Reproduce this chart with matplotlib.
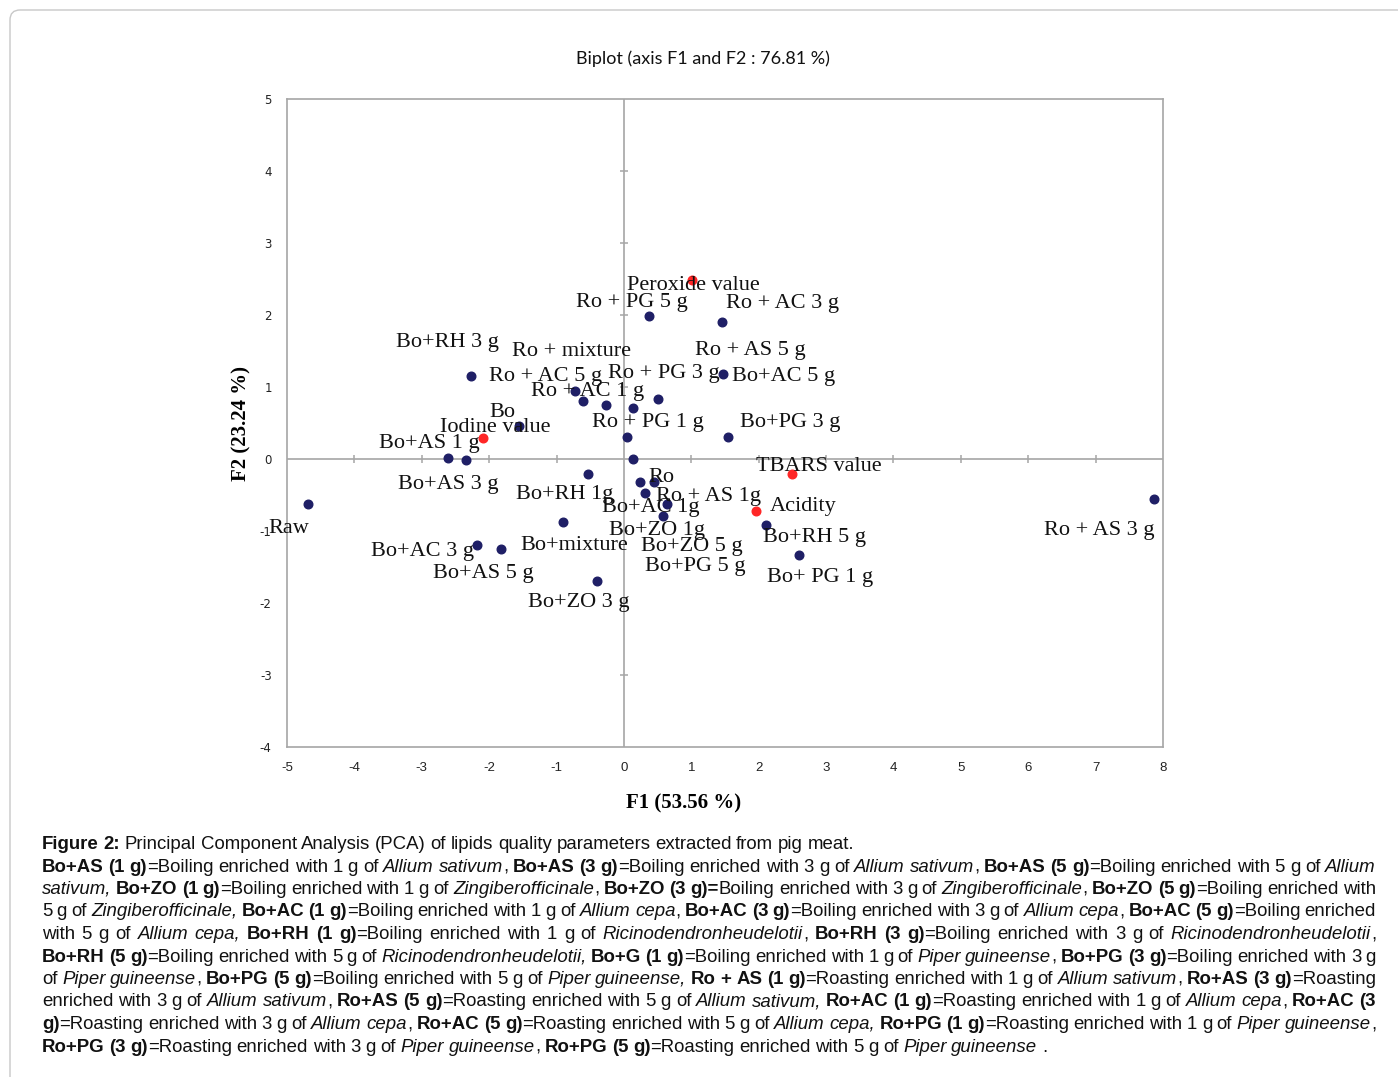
import re
import matplotlib
matplotlib.use("Agg")
import matplotlib.pyplot as plt
from matplotlib import font_manager
from matplotlib.patches import FancyBboxPatch
from matplotlib.transforms import IdentityTransform

W, H = 1398, 1077
plt.rcParams["axes.unicode_minus"] = False

# observations (F1, F2)
obs_f1 = [-4.69, -2.27, 1.47, 0.37, 1.45, -0.72, -0.61, -0.26, 0.14, 0.51,
          -1.55, 0.04, 1.55, -2.61, -2.34, 0.14, -0.54, 0.24, 0.44, 0.31,
          0.64, -0.90, 0.585, 2.11, -2.18, -1.82, 2.60, -0.40, 7.87]
obs_f2 = [-0.62, 1.15, 1.18, 1.98, 1.90, 0.95, 0.80, 0.75, 0.71, 0.83,
          0.46, 0.30, 0.31, 0.01, -0.01, -0.005, -0.21, -0.32, -0.32, -0.47,
          -0.625, -0.88, -0.79, -0.92, -1.19, -1.25, -1.33, -1.69, -0.55]

# variables (F1, F2)
var_f1 = [1.01, -2.09, 2.50, 1.96]
var_f2 = [2.48, 0.29, -0.21, -0.72]

# point labels and where they sit (left edge, vertical centre)
labels = ["Peroxide value", "Ro + PG 5 g", "Ro + AC 3 g", "Bo+RH 3 g", "Ro + mixture",
          "Ro + AS 5 g", "Ro + AC 5 g", "Ro + PG 3 g", "Bo+AC 5 g", "Ro + AC 1 g",
          "Bo", "Iodine value", "Ro + PG 1 g", "Bo+PG 3 g", "Bo+AS 1 g",
          "TBARS value", "Bo+AS 3 g", "Ro", "Bo+RH 1g", "Ro + AS 1g",
          "Bo+AC 1g", "Acidity", "Raw", "Bo+ZO 1g", "Ro + AS 3 g",
          "Bo+RH 5 g", "Bo+mixture", "Bo+ZO 5 g", "Bo+AC 3 g", "Bo+PG 5 g",
          "Bo+AS 5 g", "Bo+ PG 1 g", "Bo+ZO 3 g"]
label_x = [0.045, -0.71, 1.51, -3.38, -1.66, 1.05, -2.00, -0.24, 1.60, -1.38,
           -2.00, -2.73, -0.47, 1.72, -3.64, 1.96, -3.35, 0.36, -1.60, 0.47,
           -0.33, 2.17, -5.27, -0.22, 6.23, 2.06, -1.54, 0.25, -3.75, 0.31,
           -2.83, 2.12, -1.42]
label_y = [2.41, 2.18, 2.16, 1.62, 1.50, 1.50, 1.15, 1.19, 1.14, 0.94,
           0.64, 0.44, 0.50, 0.50, 0.21, -0.11, -0.35, -0.25, -0.50, -0.52,
           -0.68, -0.655, -0.96, -1.00, -1.00, -1.09, -1.20, -1.22, -1.29, -1.49,
           -1.59, -1.65, -2.00]

caption = [
    "**Figure 2:** Principal Component Analysis (PCA) of lipids quality parameters extracted from pig meat.",
    "**Bo+AS (1 g)**=Boiling enriched with 1 g of *Allium sativum*, **Bo+AS (3 g)**=Boiling enriched with 3 g of *Allium sativum*, **Bo+AS (5 g)**=Boiling enriched with 5 g of *Allium*",
    "*sativum,* **Bo+ZO (1 g)**=Boiling enriched with 1 g of *Zingiberofficinale*, **Bo+ZO (3 g)=**Boiling enriched with 3 g of *Zingiberofficinale*, **Bo+ZO (5 g)**=Boiling enriched with",
    "5 g of *Zingiberofficinale,* **Bo+AC (1 g)**=Boiling enriched with 1 g of *Allium cepa*, **Bo+AC (3 g)**=Boiling enriched with 3 g of *Allium cepa*, **Bo+AC (5 g)**=Boiling enriched",
    "with 5 g of *Allium cepa,* **Bo+RH (1 g)**=Boiling enriched with 1 g of *Ricinodendronheudelotii*, **Bo+RH (3 g)**=Boiling enriched with 3 g of *Ricinodendronheudelotii*,",
    "**Bo+RH (5 g)**=Boiling enriched with 5 g of *Ricinodendronheudelotii,* **Bo+G (1 g)**=Boiling enriched with 1 g of *Piper guineense*, **Bo+PG (3 g)**=Boiling enriched with 3 g",
    "of *Piper guineense*, **Bo+PG (5 g)**=Boiling enriched with 5 g of *Piper guineense,* **Ro + AS (1 g)**=Roasting enriched with 1 g of *Allium sativum*, **Ro+AS (3 g)**=Roasting",
    "enriched with 3 g of *Allium sativum*, **Ro+AS (5 g)**=Roasting enriched with 5 g of *Allium sativum,* **Ro+AC (1 g)**=Roasting enriched with 1 g of *Allium cepa*, **Ro+AC (3**",
    "**g)**=Roasting enriched with 3 g of *Allium cepa*, **Ro+AC (5 g)**=Roasting enriched with 5 g of *Allium cepa,* **Ro+PG (1 g)**=Roasting enriched with 1 g of *Piper guineense*,",
    "**Ro+PG (3 g)**=Roasting enriched with 3 g of *Piper guineense*, **Ro+PG (5 g)**=Roasting enriched with 5 g of *Piper guineense* .",
]
justified = [False, True, True, True, True, True, True, True, True, False]

grey = "#a6a6a6"
navy = "#1f1f66"
red = "#ff2626"
serif = ["Liberation Serif", "DejaVu Serif"]

try:
    font_manager.findfont("Liberation Sans Narrow", fallback_to_default=False)
    narrow = "Liberation Sans Narrow"
except ValueError:
    narrow = None

fig = plt.figure(figsize=(W / 100, H / 100), dpi=100)
fig.add_artist(FancyBboxPatch((10, -20), W + 20, H - 10 + 20,
                              boxstyle="round,pad=0,rounding_size=10",
                              transform=IdentityTransform(),
                              facecolor="none", edgecolor="#c8c8c8", lw=1))

ax = fig.add_axes([287 / W, 1 - 747 / H, 876 / W, 648 / H])
ax.set_xlim(-5, 8)
ax.set_ylim(-4, 5)
for s in ax.spines.values():
    s.set_color(grey)
    s.set_linewidth(1.2)
ax.axhline(0, color=grey, lw=1.2, zorder=1)
ax.axvline(0, color=grey, lw=1.2, zorder=1)
xt = [v for v in range(-4, 8) if v != 0]
yt = [v for v in range(-3, 5) if v != 0]
ax.plot(xt, [0] * len(xt), ls="none", marker="|", ms=6, mew=1.1, color=grey, zorder=1)
ax.plot([0] * len(yt), yt, ls="none", marker="_", ms=6, mew=1.1, color=grey, zorder=1)

ax.set_xticks(range(-5, 9))
ax.set_yticks(range(-4, 6))
ax.tick_params(length=0, colors="#222222")
ax.tick_params(axis="x", pad=11)
ax.tick_params(axis="y", pad=11)
for t in ax.get_xticklabels():
    t.set_fontfamily([narrow or "Liberation Sans", "DejaVu Sans"])
    t.set_fontsize(10 if narrow else 9.5)
for t in ax.get_yticklabels():
    t.set_fontfamily(["DejaVu Sans"])
    t.set_fontsize(8.5)

ax.plot(obs_f1, obs_f2, ls="none", marker="o", ms=6.2, color=navy, zorder=3)
ax.plot(var_f1, var_f2, ls="none", marker="o", ms=6.2, color=red, zorder=3)
for name, lx, ly in zip(labels, label_x, label_y):
    ax.text(lx, ly, name, ha="left", va="center", fontsize=16,
            family=serif, color="#111111", zorder=4, clip_on=False)

fig.text(703 / W, 1 - 59 / H, "Biplot (axis F1 and F2 : 76.81 %)", ha="center",
         va="center", fontsize=13, family=["Lato", "DejaVu Sans"], color="#111111")
fig.text(684 / W, 1 - 803 / H, "F1 (53.56 %)", ha="center", va="center",
         fontsize=15, fontweight="bold", family=serif)
fig.text(241 / W, 1 - 423 / H, "F2 (23.24 %)", ha="center", va="center",
         fontsize=15, fontweight="bold", family=serif, rotation=90)

# caption, word by word so lines can be justified
cap_font = [narrow, "Liberation Sans"] if narrow else ["Liberation Sans", "DejaVu Sans"]
cap_size = 15.5 if narrow else 13.4
renderer = fig.canvas.get_renderer()


def parse(line):
    words, cur = [], []
    for part in re.split(r"(\*\*.+?\*\*|\*.+?\*)", line):
        if not part:
            continue
        if part.startswith("**"):
            style, txt = "b", part[2:-2]
        elif part.startswith("*"):
            style, txt = "i", part[1:-1]
        else:
            style, txt = "r", part
        bits = txt.split(" ")
        for k, b in enumerate(bits):
            if k > 0:
                if cur:
                    words.append(cur)
                cur = []
            if b:
                cur.append((b, style))
    if cur:
        words.append(cur)
    return words


def make(txt, style):
    return fig.text(0, 0, txt, fontsize=cap_size, family=cap_font,
                    fontweight="bold" if style == "b" else "normal",
                    fontstyle="italic" if style == "i" else "normal",
                    ha="left", va="baseline", color="#111111")


left, right = 42, 1376
space = 0.25 * cap_size * 100 / 72
for i, line in enumerate(caption):
    base = 849 + 22.5 * i
    words = parse(line)
    items = []
    for w in words:
        row = []
        for txt, style in w:
            t = make(txt, style)
            row.append((t, t.get_window_extent(renderer).width))
        items.append(row)
    total = sum(wd for row in items for _, wd in row)
    gap = (right - left - total) / (len(items) - 1) if justified[i] else space
    x = left
    for row in items:
        for t, wd in row:
            t.set_position((x / W, 1 - base / H))
            x += wd
        x += gap

fig.savefig("out.png", dpi=100)
